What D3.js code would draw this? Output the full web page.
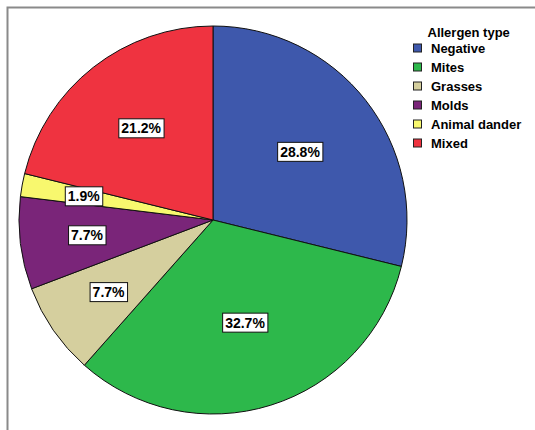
<!DOCTYPE html>
<html>
<head>
<meta charset="utf-8">
<script src="https://cdn.jsdelivr.net/npm/d3@7"></script>
<style>
  html, body { margin: 0; padding: 0; background: #fff; }
  svg { display: block; font-family: "Liberation Sans", Arial, sans-serif; }
</style>
</head>
<body>
<svg id="chart" width="535" height="430"></svg>
<script>
// Allergen types and patient counts (n = 52)
const categories = ["Negative", "Mites", "Grasses", "Molds", "Animal dander", "Mixed"];
const counts = [15, 17, 4, 4, 1, 11];
const percentLabels = ["28.8%", "32.7%", "7.7%", "7.7%", "1.9%", "21.2%"];
const colors = ["#3e58ac", "#2db84b", "#d5cf9e", "#7a2579", "#f8f86e", "#ef3340"];
const legendTitle = "Allergen type";

const svg = d3.select("#chart");
const W = 535, H = 430;

// outer frame (left and top edges visible)
svg.append("path")
  .attr("d", `M7.5,${H} V7.5 H${W}`)
  .attr("fill", "none")
  .attr("stroke", "#8a8a8a")
  .attr("stroke-width", 2);

const cx = 213, cy = 220, R = 194;
const total = d3.sum(counts);
const color = d3.scaleOrdinal().domain(categories).range(colors);

const pie = d3.pie().sort(null).value(d => d.value);
const data = categories.map((c, i) => ({ name: c, value: counts[i], label: percentLabels[i] }));
const arcs = pie(data);

const arc = d3.arc().innerRadius(0).outerRadius(R);

const g = svg.append("g").attr("transform", `translate(${cx},${cy})`);

g.selectAll("path.slice")
  .data(arcs)
  .join("path")
  .attr("class", "slice")
  .attr("d", arc)
  .attr("fill", d => color(d.data.name))
  .attr("stroke", "#111")
  .attr("stroke-width", 1)
  .attr("stroke-linejoin", "round");

// labels: smaller slices pushed further out along their bisector
const labelG = g.selectAll("g.lbl")
  .data(arcs)
  .join("g")
  .attr("class", "lbl")
  .attr("transform", d => {
    const frac = d.data.value / total;
    const rr = R * (0.685 - 0.4 * frac);
    const a = (d.startAngle + d.endAngle) / 2;
    return `translate(${rr * Math.sin(a)},${-rr * Math.cos(a)})`;
  });

labelG.each(function(d) {
  const sel = d3.select(this);
  const t = sel.append("text")
    .attr("text-anchor", "middle")
    .attr("dy", "0.36em")
    .attr("font-size", 14)
    .attr("font-weight", "bold")
    .attr("fill", "#000")
    .text(d.data.label);
  const bb = t.node().getBBox();
  sel.insert("rect", "text")
    .attr("x", bb.x - 2.5)
    .attr("y", -9.5)
    .attr("width", bb.width + 5)
    .attr("height", 19)
    .attr("fill", "#fff")
    .attr("stroke", "#111")
    .attr("stroke-width", 1);
});

// legend
const lg = svg.append("g").attr("transform", "translate(413,0)");
lg.append("text")
  .attr("x", 14.5).attr("y", 37)
  .attr("font-size", 13).attr("font-weight", "bold")
  .text(legendTitle);

const rowY = d3.scalePoint().domain(categories).range([48, 143]);
const items = lg.selectAll("g.item")
  .data(categories)
  .join("g")
  .attr("class", "item")
  .attr("transform", c => `translate(0,${rowY(c)})`);
items.append("rect")
  .attr("x", 0.5).attr("y", -4)
  .attr("width", 8).attr("height", 8)
  .attr("fill", c => color(c))
  .attr("stroke", "#222").attr("stroke-width", 1);
items.append("text")
  .attr("x", 18).attr("y", 0).attr("dy", "0.36em")
  .attr("font-size", 13).attr("font-weight", "bold")
  .text(c => c);
</script>
</body>
</html>
